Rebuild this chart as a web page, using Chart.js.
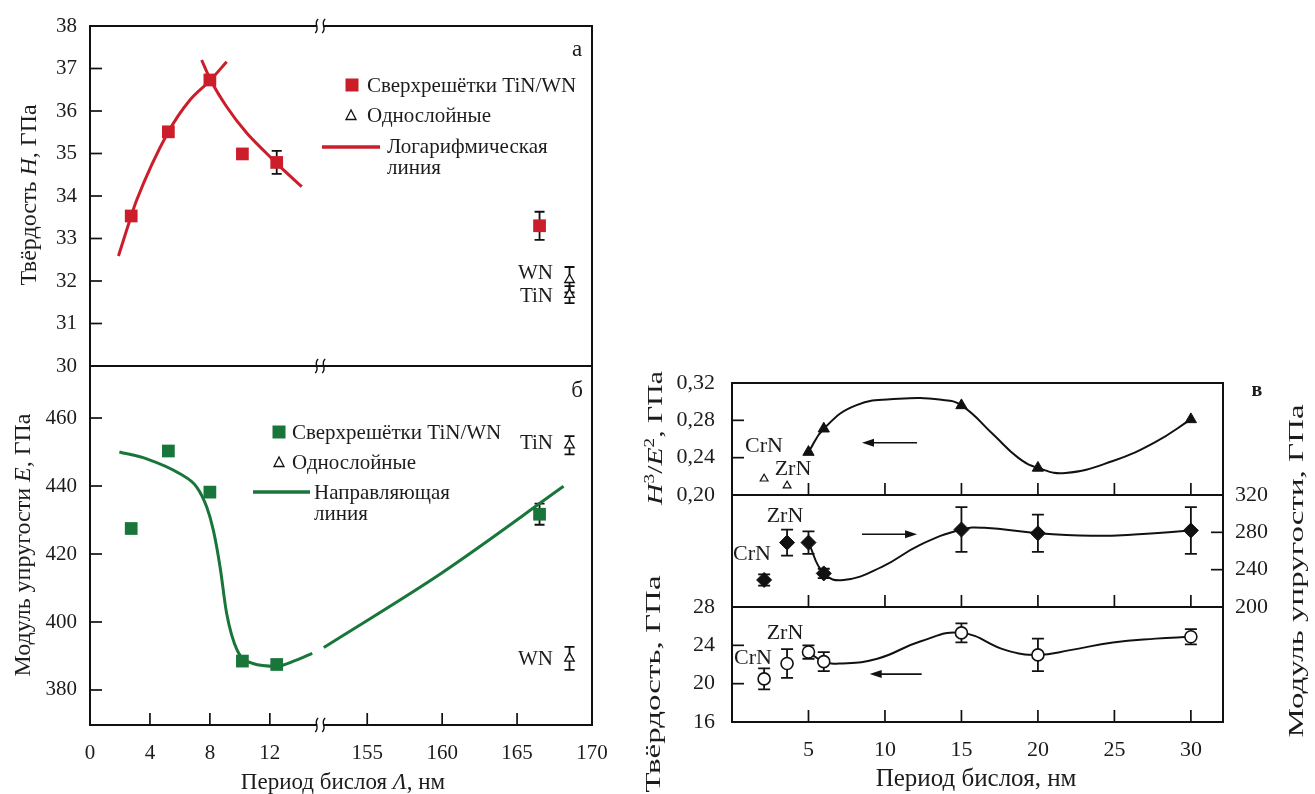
<!DOCTYPE html>
<html lang="ru">
<head>
<meta charset="UTF-8">
<title>Твёрдость и модуль упругости сверхрешёток</title>
<script src="https://cdn.jsdelivr.net/npm/chart.js"></script>
<style>
    body { margin: 0; background: #fff; color: #1c1c1c; font-family: 'Liberation Serif', 'Times New Roman', serif; }
    .stage { position: relative; width: 1315px; height: 794px; overflow: hidden; }
    .stage canvas, .stage svg { position: absolute; left: 0; top: 0; }
    .t { position: absolute; white-space: nowrap; font-size: 21px; line-height: 1; transform: translate(0, -50%); }
    .c { transform: translate(-50%, -50%); }
    .r { transform: translate(-100%, -50%); }
    .v { transform: translate(-50%, -50%) rotate(-90deg); font-size: 24px; }
    .vs { transform: translate(-50%, -50%) rotate(-90deg) scaleX(1.5); font-size: 22px; }
    sup { font-size: 65%; vertical-align: 0.55em; line-height: 0; }
</style>
</head>
<body>
<div class="stage">
    <canvas id="chA" width="1315" height="794"></canvas>
    <canvas id="chB" width="1315" height="794"></canvas>
    <canvas id="chC" width="1315" height="794"></canvas>
    <canvas id="chD" width="1315" height="794"></canvas>
    <canvas id="chE" width="1315" height="794"></canvas>

    <!-- legend markers -->
    <svg width="1315" height="794">
        <rect x="345.5" y="78.5" width="13" height="13" fill="#cc1d2b"/>
        <polygon points="351,110 346,119.5 356,119.5" fill="#fff" stroke="#111" stroke-width="1.3"/>
        <line x1="322" y1="147" x2="380" y2="147" stroke="#cc1d2b" stroke-width="3.5"/>
        <rect x="272.5" y="425.5" width="13" height="13" fill="#18763a"/>
        <polygon points="279,457 274,466.5 284,466.5" fill="#fff" stroke="#111" stroke-width="1.3"/>
        <line x1="253" y1="492" x2="310" y2="492" stroke="#18763a" stroke-width="3.5"/>
    </svg>

    <!-- panel а / б -->
    <div class="t c" style="left:577px; top:48px; font-size:23px;">а</div>
    <div class="t c" style="left:577px; top:389px; font-size:23px;">б</div>
    <div class="t" style="left:367px; top:85px;">Сверхрешётки TiN/WN</div>
    <div class="t" style="left:367px; top:115px;">Однослойные</div>
    <div class="t" style="left:387px; top:146px;">Логарифмическая</div>
    <div class="t" style="left:387px; top:167px;">линия</div>
    <div class="t" style="left:292px; top:432px;">Сверхрешётки TiN/WN</div>
    <div class="t" style="left:292px; top:462px;">Однослойные</div>
    <div class="t" style="left:314px; top:492px;">Направляющая</div>
    <div class="t" style="left:314px; top:513px;">линия</div>
    <div class="t r" style="left:553px; top:272px;">WN</div>
    <div class="t r" style="left:553px; top:295px;">TiN</div>
    <div class="t r" style="left:553px; top:442px;">TiN</div>
    <div class="t r" style="left:553px; top:658px;">WN</div>
    <div class="t v" style="left:28px; top:195px;">Твёрдость <i>H</i>, ГПа</div>
    <div class="t v" style="left:22px; top:545px;">Модуль упругости <i>E</i>, ГПа</div>
    <div class="t c" style="left:343px; top:781px; font-size:23px;">Период бислоя <i>Λ</i>, нм</div>

    <!-- panel в -->
    <div class="t c" style="left:1257px; top:389px; font-size:20px; font-weight:bold;">в</div>
    <div class="t c" style="left:764px; top:445px; font-size:22px;">CrN</div>
    <div class="t c" style="left:793px; top:468px; font-size:22px;">ZrN</div>
    <div class="t c" style="left:785px; top:515px; font-size:22px;">ZrN</div>
    <div class="t c" style="left:752px; top:553px; font-size:22px;">CrN</div>
    <div class="t c" style="left:785px; top:632px; font-size:22px;">ZrN</div>
    <div class="t c" style="left:753px; top:657px; font-size:22px;">CrN</div>
    <div class="t vs" style="left:655px; top:438px; transform:translate(-50%,-50%) rotate(-90deg) scaleX(1.35);"><i>H</i><sup>3</sup>/<i>E</i><sup>2</sup>, ГПа</div>
    <div class="t vs" style="left:653px; top:684px;">Твёрдость, ГПа</div>
    <div class="t vs" style="left:1296px; top:571px;">Модуль упругости, ГПа</div>
    <div class="t c" style="left:976px; top:777px; font-size:25px;">Период бислоя, нм</div>
</div>

<script>
    // ---------- data: panels а and б (TiN/WN) ----------
    const periodsSL = [2.75, 5.23, 8.0, 10.17, 12.46, 166.5];      // nm
    const hardSL = [33.53, 35.51, 36.73, 34.99, 34.79, 33.3];      // GPa
    const hardSLErr = [0, 0, 0, 0, 0.27, 0.33];
    const modSL = [427.5, 450.3, 438.2, 388.5, 387.5, 431.7];
    const modSLErr = [0, 0, 0, 0, 0, 3.1];

    const singlePeriod = 168.5;           // where the single-layer symbols sit
    const singleNames = ['WN', 'TiN'];
    const hardSingle = [32.03, 31.68];
    const hardSingleErr = [0.3, 0.2];
    const modSingle = [389.3, 452.0];
    const modSingleErr = [3.4, 2.7];

    // logarithmic fit lines
    const logUpX = [1.9, 2.75, 3.11, 5.23, 6.67, 8.05, 9.12];
    const logUpY = [32.59, 33.53, 33.9, 35.51, 36.26, 36.73, 37.16];
    const logDownX = [7.45, 8.05, 9.12, 10.46, 11.79, 12.68, 14.13];
    const logDownY = [37.2, 36.73, 36.1, 35.48, 35.0, 34.69, 34.22];

    // guide line for modulus
    const guide1X = [1.96, 3.78, 6.0, 7.12, 7.79, 8.23, 8.68, 9.12, 9.82, 10.87, 12.45, 13.77, 14.83];
    const guide1Y = [450.0, 448.0, 443.6, 439.7, 433.8, 427.0, 416.2, 402.5, 391.7, 387.8, 387.0, 388.8, 390.8];
    const guide2X = [152.1, 160.0, 168.1];
    const guide2Y = [392.5, 414.5, 439.9];

    const xTicksLeft = [0, 4, 8, 12, 155, 160, 165, 170];
    const hardTicks = [30, 31, 32, 33, 34, 35, 36, 37, 38];
    const modTicks = [380, 400, 420, 440, 460];

    // ---------- data: panel в (CrN/ZrN) ----------
    const singleB = ['CrN', 'ZrN'];
    const singleBX = [2.1, 3.6];
    const mlX = [5, 6, 15, 20, 30];

    const h3e2Single = [0.2174, 0.210];
    const h3e2ML = [0.246, 0.271, 0.296, 0.229, 0.281];
    const h3e2CurveX = [5, 6, 8.1, 10.9, 13.7, 15, 17.1, 18.7, 20, 21.8, 24.9, 27.7, 30];
    const h3e2CurveY = [0.246, 0.271, 0.296, 0.303, 0.302, 0.296, 0.2645, 0.240, 0.229, 0.2235, 0.2365, 0.257, 0.281];

    const modBSingle = [229, 269];
    const modBSingleErr = [6, 14];
    const modBML = [269, 236, 283, 279, 282];
    const modBMLErr = [12, 5, 24, 20, 25];
    const modBCurveX = [5, 6, 7.3, 9.8, 12.3, 15, 16.5, 20, 23.5, 26.3, 30];
    const modBCurveY = [269, 236, 229, 243, 266.6, 283, 284.8, 279, 276.3, 277.6, 282];

    const hardBSingle = [20.5, 22.1];
    const hardBSingleErr = [1.1, 1.5];
    const hardBML = [23.3, 22.3, 25.3, 23.0, 24.9];
    const hardBMLErr = [0.7, 1.0, 1.0, 1.7, 0.8];
    const hardBCurveX = [5, 6, 7, 9.5, 12.3, 15, 17.9, 20, 22.1, 24.9, 27.7, 30];
    const hardBCurveY = [23.3, 22.3, 22.1, 22.6, 24.4, 25.3, 23.5, 23.0, 23.5, 24.3, 24.7, 24.9];

    const xTicksRight = [5, 10, 15, 20, 25, 30];

    // ---------- helpers ----------
    const RED = '#cc1d2b', GREEN = '#18763a', INK = '#111';
    const BREAK_SHIFT = 136.5;                 // collapses 15..152 nm on the left x axis
    const pos = x => (x > 100 ? x - BREAK_SHIFT : x);
    const BREAK_POS = 15.36;

    Chart.defaults.font.family = "'Liberation Serif', 'Times New Roman', serif";
    Chart.defaults.font.size = 21;
    Chart.defaults.color = '#1c1c1c';

    const pts = (xs, ys, f) => xs.map((x, i) => ({ x: f ? f(x) : x, y: ys[i] }));

    function axis(o) {
        const a = {
            type: 'linear',
            position: o.position || 'left',
            display: o.display !== false,
            min: o.min, max: o.max,
            grid: { display: false, drawTicks: false },
            border: { display: false },
            ticks: {
                padding: o.pad || 13, autoSkip: false, maxRotation: 0,
                font: { size: o.size || 21 },
                callback: o.fmt || (v => String(v))
            }
        };
        if (o.ticks) a.afterBuildTicks = s => { s.ticks = o.ticks.map(v => ({ value: v })); };
        if (o.width) a.afterFit = s => { s.width = o.width; };
        if (o.height) a.afterFit = s => { s.height = o.height; };
        return a;
    }

    // frame, inward ticks and axis-break marks
    function framePlugin(o) {
        return {
            id: 'frame',
            afterDatasetsDraw(chart) {
                const { ctx, chartArea: a, scales } = chart;
                ctx.save();
                ctx.strokeStyle = INK;
                ctx.lineWidth = 2;
                ctx.strokeRect(a.left, a.top, a.width, a.height);
                ctx.lineWidth = 1.7;
                (o.xTicks || []).forEach(v => {
                    const px = scales.x.getPixelForValue(v);
                    ctx.beginPath(); ctx.moveTo(px, a.bottom); ctx.lineTo(px, a.bottom - 12); ctx.stroke();
                });
                (o.yTicks || []).forEach(v => {
                    const py = scales.y.getPixelForValue(v);
                    const x0 = o.right ? a.right : a.left;
                    ctx.beginPath(); ctx.moveTo(x0, py); ctx.lineTo(x0 + (o.right ? -12 : 12), py); ctx.stroke();
                });
                if (o.breakAt != null) {
                    const bx = scales.x.getPixelForValue(o.breakAt);
                    o.breakEdges.forEach(edge => {
                        const y = edge === 'top' ? a.top : a.bottom;
                        ctx.fillStyle = '#fff';
                        ctx.fillRect(bx - 3, y - 2, 6, 4);
                        ctx.lineWidth = 1.4;
                        [-3.5, 3.5].forEach(dx => {
                            ctx.beginPath();
                            ctx.moveTo(bx + dx + 1.5, y - 7);
                            ctx.bezierCurveTo(bx + dx - 4, y - 2, bx + dx + 4, y + 2, bx + dx - 1.5, y + 7);
                            ctx.stroke();
                        });
                    });
                }
                ctx.restore();
            }
        };
    }

    // vertical error bars from dataset.errors
    const errorBars = {
        id: 'errorBars',
        beforeDatasetsDraw(chart) {
            const { ctx } = chart;
            ctx.save();
            ctx.strokeStyle = INK;
            ctx.lineWidth = 1.8;
            chart.data.datasets.forEach((ds, i) => {
                if (!ds.errors) return;
                const meta = chart.getDatasetMeta(i);
                meta.data.forEach((el, j) => {
                    const e = ds.errors[j];
                    if (!e) return;
                    const y1 = meta.yScale.getPixelForValue(ds.data[j].y + e);
                    const y2 = meta.yScale.getPixelForValue(ds.data[j].y - e);
                    const c = ds.cap || 5;
                    ctx.beginPath();
                    ctx.moveTo(el.x, y1); ctx.lineTo(el.x, y2);
                    ctx.moveTo(el.x - c, y1); ctx.lineTo(el.x + c, y1);
                    ctx.moveTo(el.x - c, y2); ctx.lineTo(el.x + c, y2);
                    ctx.stroke();
                });
            });
            ctx.restore();
        }
    };

    // horizontal arrows telling which axis a curve belongs to
    function arrowPlugin(list) {
        return {
            id: 'arrows',
            afterDatasetsDraw(chart) {
                const { ctx, scales } = chart;
                ctx.save();
                ctx.strokeStyle = INK; ctx.fillStyle = INK; ctx.lineWidth = 1.6;
                list.forEach(ar => {
                    const x1 = scales.x.getPixelForValue(ar.from);
                    const x2 = scales.x.getPixelForValue(ar.to);
                    const y = scales.y.getPixelForValue(ar.y);
                    const d = Math.sign(x2 - x1);
                    ctx.beginPath(); ctx.moveTo(x1, y); ctx.lineTo(x2 - d * 8, y); ctx.stroke();
                    ctx.beginPath(); ctx.moveTo(x2, y); ctx.lineTo(x2 - d * 12, y - 4); ctx.lineTo(x2 - d * 12, y + 4); ctx.closePath(); ctx.fill();
                });
                ctx.restore();
            }
        };
    }

    function baseOptions(padding, scales) {
        return {
            responsive: false, maintainAspectRatio: false, devicePixelRatio: 1,
            animation: false, events: [],
            layout: { padding },
            plugins: { legend: { display: false }, tooltip: { enabled: false } },
            scales
        };
    }

    const lineDs = (data, color, width) => ({
        data, showLine: true, pointRadius: 0, borderColor: color, borderWidth: width,
        cubicInterpolationMode: 'monotone', fill: false
    });
    // smoother spline for the в curves
    const smoothDs = (data) => ({
        data, showLine: true, pointRadius: 0, borderColor: INK, borderWidth: 2, tension: 0.45, fill: false
    });

    // ---------- panel а: hardness ----------
    new Chart(document.getElementById('chA'), {
        type: 'scatter',
        data: {
            datasets: [
                { data: pts(periodsSL, hardSL, pos), errors: hardSLErr, pointStyle: 'rect', pointRadius: 9, backgroundColor: RED, borderWidth: 0 },
                { data: hardSingle.map(v => ({ x: pos(singlePeriod), y: v })), errors: hardSingleErr, pointStyle: 'triangle', pointRadius: 5.5, backgroundColor: '#fff', borderColor: INK, borderWidth: 1.3 },
                lineDs(pts(logUpX, logUpY), RED, 3),
                lineDs(pts(logDownX, logDownY), RED, 3)
            ]
        },
        options: baseOptions({ left: 0, top: 26, right: 723, bottom: 428 }, {
            x: axis({ display: false, min: 0, max: pos(170) }),
            y: axis({ min: 30, max: 38, ticks: hardTicks, width: 90, pad: 13 })
        }),
        plugins: [errorBars, framePlugin({ yTicks: hardTicks.slice(1, -1), breakAt: BREAK_POS, breakEdges: ['top', 'bottom'] })]
    });

    // ---------- panel б: elastic modulus ----------
    new Chart(document.getElementById('chB'), {
        type: 'scatter',
        data: {
            datasets: [
                { data: pts(periodsSL, modSL, pos), errors: modSLErr, pointStyle: 'rect', pointRadius: 9, backgroundColor: GREEN, borderWidth: 0 },
                { data: modSingle.map(v => ({ x: pos(singlePeriod), y: v })), errors: modSingleErr, pointStyle: 'triangle', pointRadius: 5.5, backgroundColor: '#fff', borderColor: INK, borderWidth: 1.3 },
                lineDs(pts(guide1X, guide1Y), GREEN, 3),
                lineDs(pts(guide2X, guide2Y, pos), GREEN, 3)
            ]
        },
        options: baseOptions({ left: 0, top: 366, right: 723, bottom: 0 }, {
            x: axis({ position: 'bottom', min: 0, max: pos(170), ticks: xTicksLeft.map(pos), height: 69, pad: 16, fmt: (v, i) => String(xTicksLeft[i]) }),
            y: axis({ min: 369.7, max: 475.3, ticks: modTicks, width: 90, pad: 13 })
        }),
        plugins: [errorBars, framePlugin({ xTicks: xTicksLeft.slice(1, -1).map(pos), yTicks: modTicks, breakAt: BREAK_POS, breakEdges: ['bottom'] })]
    });

    // ---------- panel в, top: H^3/E^2 ----------
    const comma = d => v => v.toFixed(d).replace('.', ',');
    new Chart(document.getElementById('chC'), {
        type: 'scatter',
        data: {
            datasets: [
                { data: pts(mlX, h3e2ML), pointStyle: 'triangle', pointRadius: 6.5, backgroundColor: INK, borderColor: INK, borderWidth: 1 },
                { data: pts(singleBX, h3e2Single), pointStyle: 'triangle', pointRadius: 4.5, backgroundColor: '#fff', borderColor: INK, borderWidth: 1.2 },
                smoothDs(pts(h3e2CurveX, h3e2CurveY))
            ]
        },
        options: baseOptions({ left: 640, top: 383, right: 92, bottom: 299 }, {
            x: axis({ display: false, min: 0, max: 32.1 }),
            y: axis({ min: 0.2, max: 0.32, ticks: [0.2, 0.24, 0.28, 0.32], width: 92, pad: 17, size: 22, fmt: comma(2) })
        }),
        plugins: [framePlugin({ xTicks: xTicksRight, yTicks: [0.24, 0.28] }),
                  arrowPlugin([{ from: 12.1, to: 8.5, y: 0.256 }])]
    });

    // ---------- panel в, middle: elastic modulus (right axis) ----------
    new Chart(document.getElementById('chD'), {
        type: 'scatter',
        data: {
            datasets: [
                { data: pts(singleBX.concat(mlX), modBSingle.concat(modBML)), errors: modBSingleErr.concat(modBMLErr), cap: 6,
                  pointStyle: 'rectRot', pointRadius: 7.5, backgroundColor: INK, borderColor: INK, borderWidth: 1 },
                smoothDs(pts(modBCurveX, modBCurveY))
            ]
        },
        options: baseOptions({ left: 732, top: 495, right: 32, bottom: 187 }, {
            x: axis({ display: false, min: 0, max: 32.1 }),
            y: axis({ position: 'right', min: 200, max: 320, ticks: [200, 240, 280, 320], width: 60, pad: 12, size: 22 })
        }),
        plugins: [errorBars, framePlugin({ xTicks: xTicksRight, yTicks: [240, 280], right: true }),
                  arrowPlugin([{ from: 8.5, to: 12.1, y: 278 }])]
    });

    // ---------- panel в, bottom: hardness ----------
    new Chart(document.getElementById('chE'), {
        type: 'scatter',
        data: {
            datasets: [
                { data: pts(singleBX.concat(mlX), hardBSingle.concat(hardBML)), errors: hardBSingleErr.concat(hardBMLErr), cap: 6,
                  pointStyle: 'circle', pointRadius: 6, backgroundColor: '#fff', borderColor: INK, borderWidth: 1.6 },
                smoothDs(pts(hardBCurveX, hardBCurveY))
            ]
        },
        options: baseOptions({ left: 640, top: 607, right: 92, bottom: 0 }, {
            x: axis({ position: 'bottom', min: 0, max: 32.1, ticks: xTicksRight, height: 72, pad: 15, size: 22 }),
            y: axis({ min: 16, max: 28, ticks: [16, 20, 24, 28], width: 92, pad: 17, size: 22 })
        }),
        plugins: [errorBars, framePlugin({ xTicks: xTicksRight, yTicks: [20, 24] }),
                  arrowPlugin([{ from: 12.4, to: 9.0, y: 21 }])]
    });
</script>
</body>
</html>
